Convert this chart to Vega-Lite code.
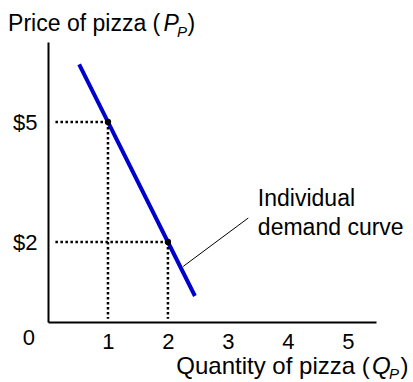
{
  "$schema": "https://vega.github.io/schema/vega-lite/v6.json",
  "width": 328,
  "height": 280,
  "autosize": {"type": "none"},
  "padding": {"left": 48, "top": 42, "right": 37, "bottom": 60},
  "background": "white",
  "config": {
    "view": {"stroke": null},
    "font": "Liberation Sans",
    "axis": {
      "grid": false,
      "ticks": false,
      "domainColor": "black",
      "domainWidth": 2,
      "labelFont": "Liberation Sans",
      "labelFontSize": 22,
      "labelColor": "black",
      "labelFlush": false,
      "labelOverlap": false
    },
    "text": {"font": "Liberation Sans", "fontSize": 23, "color": "black", "align": "left", "baseline": "alphabetic"}
  },
  "datasets": {
    "marked": [{"q": 1, "p": 5}, {"q": 2, "p": 2}],
    "demand": [{"q": 0.52, "p": 6.44}, {"q": 2.45, "p": 0.65}],
    "anchor": [{}]
  },
  "layer": [
    {
      "data": {"name": "demand"},
      "mark": {"type": "line", "color": "#0000cc", "strokeWidth": 4},
      "encoding": {
        "x": {
          "field": "q",
          "type": "quantitative",
          "scale": {"domain": [0, 5.47], "nice": false, "zero": false},
          "axis": {"values": [1, 2, 3, 4, 5], "format": "d", "labelPadding": 9, "title": null}
        },
        "y": {
          "field": "p",
          "type": "quantitative",
          "scale": {"domain": [0, 7], "nice": false, "zero": false},
          "axis": {"values": [2, 5], "labelExpr": "'$' + datum.value", "labelPadding": 11, "title": null}
        }
      }
    },
    {
      "data": {"name": "marked"},
      "mark": {"type": "rule", "color": "black", "strokeWidth": 2.5, "strokeDash": [2.5, 2.5]},
      "encoding": {
        "x": {"field": "q", "type": "quantitative"},
        "x2": {"datum": 0.1},
        "y": {"field": "p", "type": "quantitative"}
      }
    },
    {
      "data": {"name": "marked"},
      "mark": {"type": "rule", "color": "black", "strokeWidth": 2.5, "strokeDash": [2.5, 2.5]},
      "encoding": {
        "x": {"field": "q", "type": "quantitative"},
        "y": {"field": "p", "type": "quantitative"},
        "y2": {"datum": 0.08}
      }
    },
    {
      "data": {"name": "marked"},
      "mark": {"type": "point", "filled": true, "color": "black", "opacity": 1, "size": 40},
      "encoding": {
        "x": {"field": "q", "type": "quantitative"},
        "y": {"field": "p", "type": "quantitative"}
      }
    },
    {
      "data": {"name": "anchor"},
      "mark": {"type": "rule", "color": "black", "strokeWidth": 1},
      "encoding": {
        "x": {"datum": 3.34, "type": "quantitative"},
        "y": {"datum": 2.6, "type": "quantitative"},
        "x2": {"datum": 2.255},
        "y2": {"datum": 1.39}
      }
    },
    {
      "data": {"name": "anchor"},
      "mark": {"type": "text", "text": "Individual"},
      "encoding": {
        "x": {"datum": 3.5, "type": "quantitative"},
        "y": {"datum": 2.89, "type": "quantitative"}
      }
    },
    {
      "data": {"name": "anchor"},
      "mark": {"type": "text", "text": "demand curve"},
      "encoding": {
        "x": {"datum": 3.5, "type": "quantitative"},
        "y": {"datum": 2.18, "type": "quantitative"}
      }
    },
    {
      "data": {"name": "anchor"},
      "mark": {"type": "text", "text": "0", "fontSize": 22},
      "encoding": {
        "x": {"datum": -0.42, "type": "quantitative"},
        "y": {"datum": -0.57, "type": "quantitative"}
      }
    },
    {
      "data": {"name": "anchor"},
      "mark": {"type": "text", "text": "Price of pizza ("},
      "encoding": {
        "x": {"datum": -0.665, "type": "quantitative"},
        "y": {"datum": 7.27, "type": "quantitative"}
      }
    },
    {
      "data": {"name": "anchor"},
      "mark": {"type": "text", "text": "P", "fontStyle": "italic"},
      "encoding": {
        "x": {"datum": 1.928, "type": "quantitative"},
        "y": {"datum": 7.27, "type": "quantitative"}
      }
    },
    {
      "data": {"name": "anchor"},
      "mark": {"type": "text", "text": "P", "fontStyle": "italic", "fontSize": 15},
      "encoding": {
        "x": {"datum": 2.153, "type": "quantitative"},
        "y": {"datum": 7.13, "type": "quantitative"}
      }
    },
    {
      "data": {"name": "anchor"},
      "mark": {"type": "text", "text": ")"},
      "encoding": {
        "x": {"datum": 2.328, "type": "quantitative"},
        "y": {"datum": 7.27, "type": "quantitative"}
      }
    },
    {
      "data": {"name": "anchor"},
      "mark": {"type": "text", "text": "Quantity of pizza (", "fontSize": 24},
      "encoding": {
        "x": {"datum": 2.14, "type": "quantitative"},
        "y": {"datum": -1.29, "type": "quantitative"}
      }
    },
    {
      "data": {"name": "anchor"},
      "mark": {"type": "text", "text": "Q", "fontStyle": "italic", "fontSize": 24},
      "encoding": {
        "x": {"datum": 5.403, "type": "quantitative"},
        "y": {"datum": -1.29, "type": "quantitative"}
      }
    },
    {
      "data": {"name": "anchor"},
      "mark": {"type": "text", "text": "P", "fontStyle": "italic", "fontSize": 15},
      "encoding": {
        "x": {"datum": 5.687, "type": "quantitative"},
        "y": {"datum": -1.43, "type": "quantitative"}
      }
    },
    {
      "data": {"name": "anchor"},
      "mark": {"type": "text", "text": ")", "fontSize": 24},
      "encoding": {
        "x": {"datum": 5.878, "type": "quantitative"},
        "y": {"datum": -1.29, "type": "quantitative"}
      }
    }
  ]
}
